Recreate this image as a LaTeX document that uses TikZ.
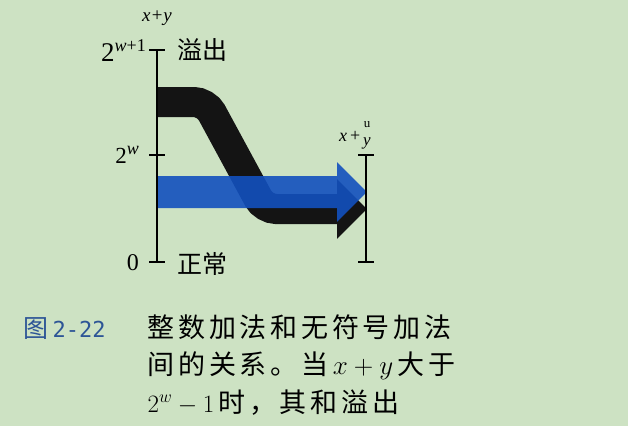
\RequirePackage{fix-cm}
\documentclass[tikz,border=0pt]{standalone}
\usepackage{fontspec}
\usepackage{amsmath}
\usetikzlibrary{arrows.meta}
\newfontfamily\cjk{Noto Sans CJK SC}
\newfontfamily\cjkcap[LetterSpace=14]{Noto Sans CJK SC}
\newfontfamily\capmono{DejaVu Sans Mono}
\newfontfamily\timesfont{Liberation Serif}
\definecolor{paper}{RGB}{205,226,195}
\definecolor{bandblue}{RGB}{18,80,190}
\definecolor{capblue}{RGB}{45,85,150}
\newcommand{\supsize}[2]{\raisebox{#1}{\fontsize{18}{20}\selectfont #2}}
\tikzset{
  band/.style={line width=30pt, rounded corners=12pt, -{Triangle[length=30pt,width=58pt]}},
  axisline/.style={line width=1.8pt},
  axislabel/.style={font=\fontsize{24}{26}\selectfont\timesfont, inner sep=0pt},
  cjklabel/.style={font=\fontsize{25}{28}\selectfont\cjk},
  caption/.style={anchor=base west, font=\fontsize{27}{30}\selectfont\cjkcap}
}
\begin{document}
\begin{tikzpicture}[x=1pt,y=-1pt]
        \fill[paper] (0,0) rectangle (628,426);
        \useasboundingbox (0,0) rectangle (628,426);

        % Axis points
        \coordinate (L0) at (157,262);
        \coordinate (Lw) at (157,155);
        \coordinate (Lw1) at (157,50);
        \coordinate (R0) at (366,262);
        \coordinate (Rw) at (366,155);

        % Bands
        \coordinate (over0) at (157,102);
        \coordinate (over1) at (206,102);
        \coordinate (over2) at (264,209);
        \coordinate (over3) at (367,209);
        \draw[band, black!92] (over0) -- (over1) -- (over2) -- (over3);
        \coordinate (norm0) at (157,192);
        \coordinate (norm1) at (367,192);
        \begin{scope}[transparency group, opacity=0.9]
            \draw[band, line width=32pt, bandblue] (norm0) -- (norm1);
        \end{scope}

        % Axes
        \draw[axisline] (L0) -- (Lw1);
        \draw[axisline] (R0) -- (Rw);
        \foreach \p in {L0,Lw,Lw1,R0,Rw}
            \draw[axisline] ([xshift=-8pt]\p) -- ([xshift=8pt]\p);

        % Labels
        \node[axislabel, font=\fontsize{19}{22}\selectfont\timesfont\itshape] (sum) at (157,18) {x+y};
        \node[axislabel, font=\fontsize{27}{30}\selectfont\timesfont, anchor=base east] (top) at (146,61) {2\supsize{10pt}{\itshape w\upshape +1}};
        \node[axislabel, font=\fontsize{23}{26}\selectfont\timesfont, anchor=base east] (mid) at (139,163) {2\supsize{9pt}{\itshape w}};
        \node[axislabel, anchor=base east] (zero) at (139,270) {0};
        \node[cjklabel, anchor=west] (ovf) at (174,50) {溢出};
        \node[cjklabel, anchor=west] (ok) at (174,264) {正常};
        \node[axislabel, font=\fontsize{18}{20}\selectfont\timesfont\itshape, anchor=base west] (usumx) at (339,141) {x\,\upshape +};
        \node[axislabel, font=\fontsize{13}{15}\selectfont\timesfont, anchor=base] (usumu) at (367,127) {u};
        \node[axislabel, font=\fontsize{17}{20}\selectfont\timesfont\itshape, anchor=base] (usumy) at (367,145) {y};

        % Caption
        \node[anchor=base west, text=capblue] (fig) at (20,337)
            {\fontsize{25}{28}\selectfont\cjk 图\,\fontsize{22}{28}\selectfont\capmono 2-22};
        \node[caption] (cap1) at (144,337) {整数加法和无符号加法};
        \node[caption] (cap2) at (144,374) {间的关系。当\,\fontsize{27}{30}\selectfont$x+y$\,大于};
        \node[caption] (cap3) at (144,412) {\fontsize{25}{28}\selectfont$2^{w}-1$\,\fontsize{27}{30}\selectfont 时，其和溢出};
\end{tikzpicture}
\end{document}
